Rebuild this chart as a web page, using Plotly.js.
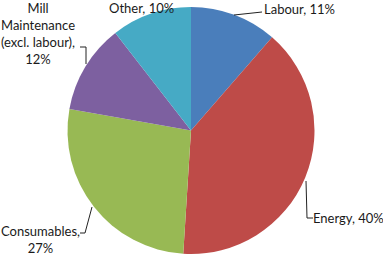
<!DOCTYPE html>
<html><head><meta charset="utf-8">
<script src="https://cdn.plot.ly/plotly-3.0.1.min.js"></script>
<style>html,body{margin:0;padding:0;background:#fff}#chart{width:383px;height:256px}</style>
</head><body><div id="chart"></div>
<script>
// Data
const categories = ["Labour", "Energy", "Consumables", "Mill Maintenance (excl. labour)", "Other"];
const values = [11.4, 39.6, 26.8, 11.7, 10.5];
const labelTexts = ["Labour, 11%", "Energy, 40%", "Consumables,<br>27%", "Mill<br>Maintenance<br>(excl. labour),<br>12%", "Other, 10%"];
const colors = ["#4A7EBB", "#BE4B48", "#98B954", "#7D60A0", "#46AAC5"];

const W = 383, H = 256;
const px = x => x / W, py = y => 1 - y / H;

// label layout (pixel positions)
const labelPos = [
  {x: 299, y: 9},
  {x: 348, y: 218},
  {x: 40, y: 239},
  {x: 38, y: 33},
  {x: 141, y: 8}
];
const leaders = [
  [[234,15],[262,12]],
  [[306,181],[307,218],[313,218]],
  [[92,207],[85,233],[80,233]],
  [[86,64],[86,47],[80,47]],
  []
];

const annotations = labelTexts.map((t, i) => ({
  text: t, x: px(labelPos[i].x), y: py(labelPos[i].y), xref: "paper", yref: "paper",
  xanchor: "center", yanchor: "middle", showarrow: false, align: "center",
  font: {family: "Lato, 'Open Sans', sans-serif", size: 13, color: "#1a1a1a"}
}));

const shapes = [];
leaders.forEach(seg => {
  for (let k = 0; k + 1 < seg.length; k++) {
    shapes.push({type: "line", xref: "paper", yref: "paper",
      x0: px(seg[k][0]), y0: py(seg[k][1]), x1: px(seg[k+1][0]), y1: py(seg[k+1][1]),
      line: {color: "#222", width: 1}});
  }
});

const trace = {
  type: "pie", labels: categories, values: values, sort: false, direction: "clockwise",
  rotation: 0, textinfo: "none", hoverinfo: "label+percent",
  marker: {colors: colors, line: {width: 0}},
  domain: {x: [px(67), px(315)], y: [py(254), py(7)]},
  showlegend: false
};

Plotly.newPlot("chart", [trace], {
  width: W, height: H, margin: {l: 0, r: 0, t: 0, b: 0},
  paper_bgcolor: "#fff", plot_bgcolor: "#fff",
  showlegend: false, annotations: annotations, shapes: shapes
}, {displayModeBar: false, staticPlot: true});
</script></body></html>
